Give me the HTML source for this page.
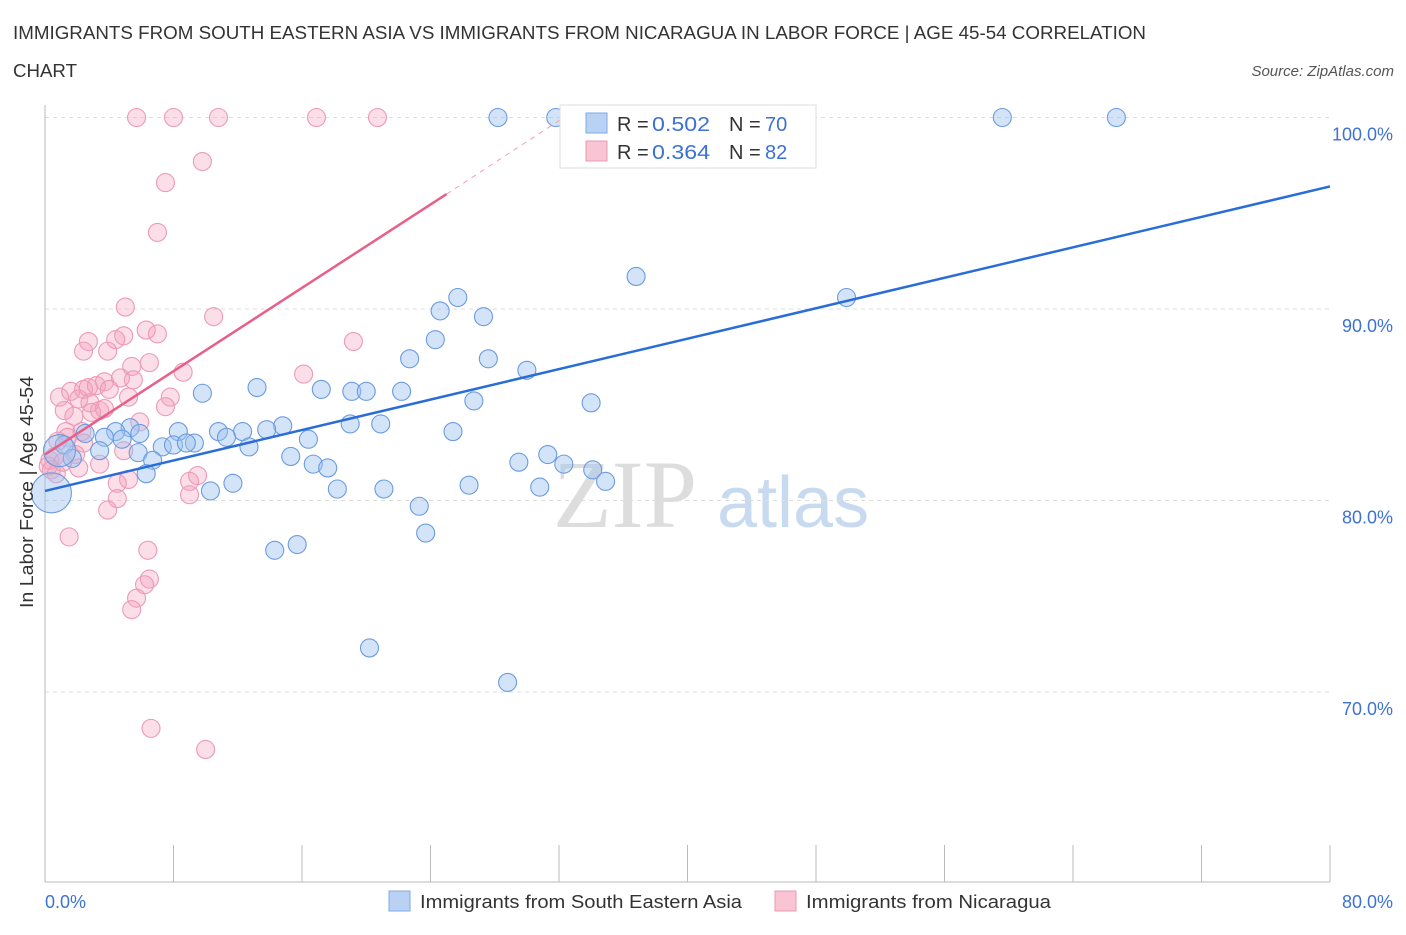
<!DOCTYPE html>
<html><head><meta charset="utf-8"><style>
body{margin:0;background:#fff;font-family:"Liberation Sans",sans-serif;}
</style></head><body>
<svg id="chart" width="1406" height="930" xmlns="http://www.w3.org/2000/svg" font-family="Liberation Sans, sans-serif">
<text x="13" y="39" font-size="18" fill="#333" textLength="1133" lengthAdjust="spacingAndGlyphs">IMMIGRANTS FROM SOUTH EASTERN ASIA VS IMMIGRANTS FROM NICARAGUA IN LABOR FORCE | AGE 45-54 CORRELATION</text>
<text x="13" y="77" font-size="18" fill="#333" textLength="64" lengthAdjust="spacingAndGlyphs">CHART</text>
<text x="1394" y="76" font-size="15" fill="#555" font-style="italic" text-anchor="end">Source: ZipAtlas.com</text>
<text x="553" y="527" font-size="96" fill="#ddd" font-family="Liberation Serif, serif">ZIP</text>
<text x="717" y="527" font-size="72" fill="#c8daf0">atlas</text>
<g id="grid"></g><g id="axes"></g><g id="pts"></g><g id="lines"></g>
<text transform="translate(33,492) rotate(-90)" font-size="18" fill="#333" text-anchor="middle" textLength="232" lengthAdjust="spacingAndGlyphs">In Labor Force | Age 45-54</text>
<text x="45" y="908" font-size="18" fill="#3d72d4">0.0%</text>
<text x="1393" y="908" font-size="18" fill="#3d72d4" text-anchor="end">80.0%</text>
<g>
<rect x="560" y="105" width="256" height="63" fill="#fff" stroke="#ddd"/>
<rect x="586" y="113" width="21" height="20" fill="#b9d2f4" stroke="#7fa9e6"/>
<rect x="586" y="141" width="21" height="20" fill="#f9c4d4" stroke="#eb9ab4"/>
<text x="617" y="131" font-size="20" fill="#333">R =</text>
<text x="652" y="131" font-size="20" fill="#3d72d4" textLength="58" lengthAdjust="spacingAndGlyphs">0.502</text>
<text x="729" y="131" font-size="20" fill="#333">N =</text>
<text x="765" y="131" font-size="20" fill="#3d72d4">70</text>
<text x="617" y="159" font-size="20" fill="#333">R =</text>
<text x="652" y="159" font-size="20" fill="#3d72d4" textLength="58" lengthAdjust="spacingAndGlyphs">0.364</text>
<text x="729" y="159" font-size="20" fill="#333">N =</text>
<text x="765" y="159" font-size="20" fill="#3d72d4">82</text>
</g>
<g>
<rect x="389" y="891" width="21" height="20" fill="#b9d2f4" stroke="#7fa9e6"/>
<text x="420" y="908" font-size="18" fill="#333" textLength="322" lengthAdjust="spacingAndGlyphs">Immigrants from South Eastern Asia</text>
<rect x="775" y="891" width="21" height="20" fill="#f9c4d4" stroke="#eb9ab4"/>
<text x="806" y="908" font-size="18" fill="#333" textLength="245" lengthAdjust="spacingAndGlyphs">Immigrants from Nicaragua</text>
</g>
</svg>
<script>
const yTicks=[100,90,80,70];
const yTickLabels=["100.0%","90.0%","80.0%","70.0%"];
const blueX=[28.2,31.8,59.6,66.7,36.8,49.9,25.7,24.6,27.3,24.3,22.7,27.6,30.0,9.8,13.2,17.2,19.1,20.0,22.2,26.7,34.0,19.0,14.8,12.3,8.3,20.9,25.4,13.8,10.8,11.3,16.4,9.3,7.3,8.0,8.8,12.7,5.3,4.4,3.7,2.5,4.8,5.9,3.4,1.2,1.7,5.8,15.3,6.7,16.7,17.6,6.3,29.5,31.3,32.3,34.1,34.9,26.4,30.8,21.1,18.2,11.7,10.3,23.3,23.7,14.3,15.7,20.2,28.8,0.4,0.9];
const blueY=[100,100,100,100,91.7,90.6,90.6,89.9,89.6,88.4,87.4,87.4,86.8,85.6,85.9,85.8,85.7,85.7,85.7,85.2,85.1,84.0,83.9,83.6,83.6,84.0,83.6,83.7,83.6,83.3,83.2,83.0,82.8,82.9,83.0,82.8,83.8,83.6,83.3,83.5,83.2,83.5,82.6,82.9,82.2,82.5,82.3,82.1,81.9,81.7,81.4,82.0,82.4,81.9,81.6,81.0,80.8,80.7,80.6,80.6,80.9,80.5,79.7,78.3,77.4,77.7,72.3,70.5,80.4,82.6];
const blueR=[9,9,9,9,9,9,9,9,9,9,9,9,9,9,9,9,9,9,9,9,9,9,9,9,9,9,9,9,9,9,9,9,9,9,9,9,9,9,9,9,9,9,9,9,9,9,9,9,9,9,9,9,9,9,9,9,9,9,9,9,9,9,9,9,9,9,9,9,20,16];
const pinkX=[5.7,8.0,10.8,16.9,20.7,9.8,7.5,7.0,5.0,10.5,6.3,7.0,4.9,4.4,2.7,2.4,3.9,19.2,6.5,5.4,8.6,16.1,5.5,3.7,4.7,1.6,2.4,2.7,3.2,4.0,0.9,5.2,7.8,2.1,7.5,2.8,1.2,3.4,2.9,1.8,5.9,3.7,1.3,2.3,1.4,0.8,2.4,4.9,1.9,0.6,3.4,2.1,0.3,0.4,0.7,5.2,4.5,9.0,9.5,9.0,4.5,3.9,1.5,6.4,6.5,6.2,5.7,5.4,6.6,10.0,1.1,0.2];
const pinkY=[100,100,100,100,100,97.7,96.6,94.0,90.1,89.6,88.9,88.7,88.6,88.4,88.3,87.8,87.8,88.3,87.2,87.0,86.7,86.6,86.3,86.2,86.4,85.7,85.8,85.9,86.0,85.8,85.4,85.4,85.4,85.3,84.9,85.1,84.7,84.7,84.6,84.4,84.1,84.8,83.6,83.6,83.3,83.1,83.0,82.6,82.4,82.3,81.9,81.7,82.1,81.6,81.4,81.1,80.9,81.0,81.3,80.3,80.1,79.5,78.1,77.4,75.9,75.6,74.9,74.3,68.1,67.0,82.0,81.8];
const blueTrend=[[0,80.5],[80,96.4]];
const pinkTrend=[[0,82.4],[25,96.0]];
const pinkTrendDash=[[25,96.0],[32.3,100]];
const NS="http://www.w3.org/2000/svg";
const X0=45,X1=1330,YT=117.5,PX_PER=19.15;
function sx(v){return X0+(X1-X0)*v/80;}
function sy(v){return YT+(100-v)*PX_PER;}
function mk(tag,attrs,parent){const e=document.createElementNS(NS,tag);for(const k in attrs)e.setAttribute(k,attrs[k]);document.getElementById(parent).appendChild(e);return e;}
yTicks.forEach((t,i)=>{
 const l=mk('line',{x1:X0,x2:1330,y1:sy(t),y2:sy(t),stroke:'#ddd','stroke-dasharray':'4,4'},'grid');
 
 
 const tx=mk('text',{x:1393,y:sy(t)+23,'font-size':18,fill:'#3d72d4','text-anchor':'end'},'grid');
 tx.textContent=yTickLabels[i];
 
 
});
const ax=mk('line',{x1:X0,x2:X0,y1:105,y2:882,stroke:'#bbb'},'axes');


const bx=mk('line',{x1:X0,x2:1330,y1:882,y2:882,stroke:'#bbb'},'axes');


for(let i=0;i<=10;i++){const t=mk('line',{x1:sx(i*8),x2:sx(i*8),y1:845,y2:882,stroke:'#bbb'},'axes');
 
 }
pinkX.forEach((x,i)=>{const c=mk('circle',{cx:sx(x),cy:sy(pinkY[i]),r:9,fill:'rgba(244,160,188,0.35)',stroke:'#ec9ab6','stroke-width':1.1},'pts');
 
 });
blueX.forEach((x,i)=>{const c=mk('circle',{cx:sx(x),cy:sy(blueY[i]),r:blueR[i],fill:'rgba(160,196,240,0.45)',stroke:'#6b9be0','stroke-width':1.1},'pts');
 
 });
const bl=mk('line',{x1:sx(blueTrend[0][0]),y1:sy(blueTrend[0][1]),x2:sx(blueTrend[1][0]),y2:sy(blueTrend[1][1]),stroke:'#2a6dd6','stroke-width':2.5},'lines');


const pl=mk('line',{x1:sx(pinkTrend[0][0]),y1:sy(pinkTrend[0][1]),x2:sx(pinkTrend[1][0]),y2:sy(pinkTrend[1][1]),stroke:'#e8608a','stroke-width':2.5},'lines');


const pd=mk('line',{x1:sx(pinkTrendDash[0][0]),y1:sy(pinkTrendDash[0][1]),x2:sx(pinkTrendDash[1][0]),y2:sy(pinkTrendDash[1][1]),stroke:'#f0a0b8','stroke-width':1,'stroke-dasharray':'5,5'},'lines');


</script>
</body></html>
